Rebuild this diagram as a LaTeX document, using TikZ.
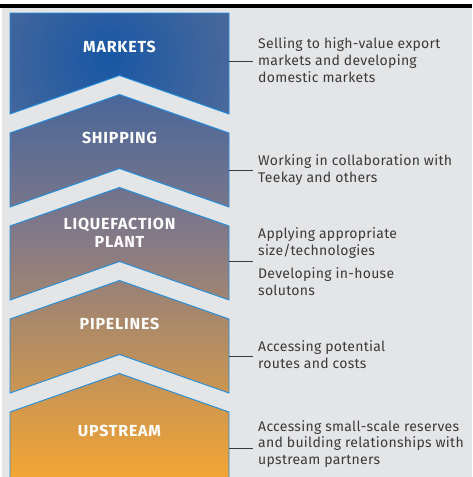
\documentclass[tikz,border=0pt]{standalone}
\usepackage{fontspec}
\setmainfont{Fira Sans}
\newfontfamily\titlefont[LetterSpace=5]{Fira Sans}
\newfontfamily\notefont[LetterSpace=2]{Fira Sans}
\definecolor{bg}{HTML}{E4E5E7}
\definecolor{edge}{HTML}{1E8FE0}
\definecolor{deepblue}{HTML}{1857A4}
\definecolor{steelblue}{HTML}{4E6A9A}
\definecolor{slate}{HTML}{48669A}
\definecolor{mauve}{HTML}{857A86}
\definecolor{amber}{HTML}{F5A632}
\definecolor{ink}{HTML}{3A3A3A}
\begin{document}
\begin{tikzpicture}[x=1pt,y=-1pt,
  title/.style={text=white,font=\titlefont\bfseries\fontsize{16}{18}\selectfont,align=center},
  note/.style={text=ink,font=\notefont\fontsize{14}{16.8}\selectfont,align=left,anchor=west,inner sep=0pt},
  leader/.style={draw=ink,line width=0.8pt,shorten >=5pt},
  panelEdge/.style={draw=edge,line width=0.9pt,line join=miter},
  % the five stacked chevron panels
  marketsShape/.style={insert path={(10,13) -- (229,13) -- (229,114) -- (119.5,75.5) -- (10,114) -- cycle}},
  panels/.style={insert path={
    (10,13) -- (229,13) -- (229,114) -- (119.5,75.5) -- (10,114) -- cycle
    (10,133) -- (119.5,94.5) -- (229,133) -- (229,207) -- (119.5,168.5) -- (10,207) -- cycle
    (10,226) -- (119.5,187.5) -- (229,226) -- (229,300) -- (119.5,261.5) -- (10,300) -- cycle
    (10,319) -- (119.5,280.5) -- (229,319) -- (229,393) -- (119.5,354.5) -- (10,393) -- cycle
    (10,412) -- (119.5,373.5) -- (229,412) -- (229,482) -- (10,482) -- cycle}}]

\useasboundingbox (0,0) rectangle (472,477);
\fill[white] (0,0) rectangle (472,477);
\fill[bg] (2,8) rectangle (472,477);
\fill[black] (0,4) rectangle (472,8);

% colour ramp from blue (top) to amber (bottom)
\begin{scope}
  \clip[panels];
  \shade[top color=slate, bottom color=mauve] (0,90) rectangle (240,241);
  \shade[top color=mauve, bottom color=amber] (0,240) rectangle (240,482);
\end{scope}
\begin{scope}
  \clip[marketsShape];
  \shade[inner color=deepblue, outer color=steelblue] (108,58) circle (140);
\end{scope}
\path[panelEdge, panels];

% panel titles
\node[title] (tmk) at (119.5,47) {MARKETS};
\node[title] (tsh) at (119.5,138) {SHIPPING};
\node[title] (tlq) at (119.5,233) {LIQUEFACTION\\PLANT};
\node[title] (tpl) at (119.5,324) {PIPELINES};
\node[title] (tup) at (119.5,431) {UPSTREAM};

% descriptions
\node[note] (nmk) at (258,60) {Selling to high-value export\\markets and developing\\domestic markets};
\node[note] (nsh) at (258,170) {Working in collaboration with\\Teekay and others};
\node[note] (nlq) at (258,261.5) {Applying appropriate\\size/technologies\\[6pt]Developing in-house\\solutons};
\node[note] (npl) at (258,354.5) {Accessing potential\\routes and costs};
\node[note] (nup) at (258,444) {Accessing small-scale reserves\\and building relationships with\\upstream partners};

% leader lines from the panel edge
\coordinate (rmk) at (229,61);
\coordinate (rsh) at (229,170);
\coordinate (rlq) at (229,261);
\coordinate (rpl) at (229,356);
\coordinate (rup) at (229,448);
\draw[leader] (rmk) -- (rmk -| nmk.west);
\draw[leader] (rsh) -- (rsh -| nsh.west);
\draw[leader] (rlq) -- (rlq -| nlq.west);
\draw[leader] (rpl) -- (rpl -| npl.west);
\draw[leader] (rup) -- (rup -| nup.west);
\end{tikzpicture}
\end{document}
